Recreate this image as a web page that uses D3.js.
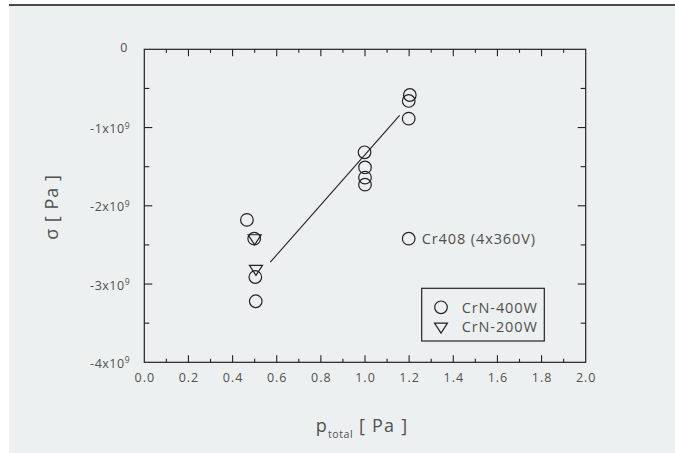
<!DOCTYPE html>
<html>
<head>
<meta charset="utf-8">
<script src="https://cdn.jsdelivr.net/npm/d3@7"></script>
<style>
  html, body { margin: 0; padding: 0; background: #ffffff; }
  svg { display: block; }
  text { font-family: "Open Sans", "Lato", "Noto Sans", sans-serif; fill: #505050; }
</style>
</head>
<body>
<script>
// Film stress versus total sputtering pressure
const xTicks = [0.0, 0.2, 0.4, 0.6, 0.8, 1.0, 1.2, 1.4, 1.6, 1.8, 2.0];
const yTicks = [0, -1e9, -2e9, -3e9, -4e9];
const yTickLabels = ["0", "-1x10", "-2x10", "-3x10", "-4x10"];

// CrN deposited at 400 W
const crn400P = [0.465, 0.498, 0.503, 0.505, 0.998, 1.0, 1.0, 1.0, 1.203, 1.198, 1.198];
const crn400S = [-2.18e9, -2.42e9, -2.91e9, -3.22e9, -1.316e9, -1.51e9, -1.64e9, -1.73e9, -0.584e9, -0.66e9, -0.886e9];

// CrN deposited at 200 W
const crn200P = [0.5, 0.506];
const crn200S = [-2.42e9, -2.81e9];

// Cr408 sample (4x360V)
const cr408P = [1.198];
const cr408S = [-2.42e9];
const cr408Label = "Cr408 (4x360V)";

// Linear trend line end points
const fitP = [0.571, 1.157];
const fitS = [-2.72e9, -0.843e9];

const legendLabels = ["CrN-400W", "CrN-200W"];

const W = 675, H = 453;
const svg = d3.select("body").append("svg").attr("width", W).attr("height", H);

// panel background and top rule
svg.append("rect").attr("x", 9).attr("y", 5).attr("width", W - 9).attr("height", H - 5).attr("fill", "#edf0f1");
svg.append("line").attr("x1", 9).attr("x2", W).attr("y1", 5).attr("y2", 5).attr("stroke", "#111").attr("stroke-width", 1.5);

const pL = 144.3, pR = 585.7, pT = 49.3, pB = 362.3;
const x = d3.scaleLinear().domain([0, 2]).range([pL, pR]);
const y = d3.scaleLinear().domain([-4e9, 0]).range([pB, pT]);

const ink = "#222";

// frame
svg.append("rect").attr("x", pL).attr("y", pT).attr("width", pR - pL).attr("height", pB - pT)
  .attr("fill", "none").attr("stroke", ink).attr("stroke-width", 1.2);

// inward ticks on all four sides
const xMinor = d3.range(0.1, 2.0, 0.2);
const yMinor = [-0.5e9, -1.5e9, -2.5e9, -3.5e9];
const tickG = svg.append("g").attr("stroke", ink).attr("stroke-width", 1.1);
xTicks.slice(1, -1).forEach(v => {
  tickG.append("line").attr("x1", x(v)).attr("x2", x(v)).attr("y1", pB).attr("y2", pB - 7);
  tickG.append("line").attr("x1", x(v)).attr("x2", x(v)).attr("y1", pT).attr("y2", pT + 7);
});
xMinor.forEach(v => {
  tickG.append("line").attr("x1", x(v)).attr("x2", x(v)).attr("y1", pB).attr("y2", pB - 3.5);
  tickG.append("line").attr("x1", x(v)).attr("x2", x(v)).attr("y1", pT).attr("y2", pT + 3.5);
});
yTicks.slice(1, -1).forEach(v => {
  tickG.append("line").attr("x1", pL).attr("x2", pL + 8).attr("y1", y(v)).attr("y2", y(v));
  tickG.append("line").attr("x1", pR).attr("x2", pR - 8).attr("y1", y(v)).attr("y2", y(v));
});
yMinor.forEach(v => {
  tickG.append("line").attr("x1", pL).attr("x2", pL + 5).attr("y1", y(v)).attr("y2", y(v));
  tickG.append("line").attr("x1", pR).attr("x2", pR - 5).attr("y1", y(v)).attr("y2", y(v));
});

// x tick labels
svg.append("g").selectAll("text").data(xTicks).join("text")
  .attr("x", d => x(d) + 0.5).attr("y", pB + 19.5)
  .attr("text-anchor", "middle").attr("font-size", 12.5).attr("letter-spacing", 1)
  .text(d => d.toFixed(1));

// y tick labels with superscript exponent
yTicks.forEach((v, i) => {
  const t = svg.append("text").attr("x", 130).attr("y", y(v) + 5.5)
    .attr("text-anchor", "end").attr("font-size", 12.5).attr("letter-spacing", 0.5);
  if (v === 0) {
    t.attr("x", 128).attr("y", y(v) + 3).text(yTickLabels[i]);
  } else {
    t.append("tspan").text(yTickLabels[i]);
    t.append("tspan").attr("font-size", 8.5).attr("dy", -4.5).text("9");
  }
});

// axis titles
const xt = svg.append("text").attr("x", 362).attr("y", 431.5).attr("text-anchor", "middle")
  .attr("font-size", 18).attr("letter-spacing", 1.2);
xt.append("tspan").text("p");
xt.append("tspan").attr("font-size", 10.5).attr("letter-spacing", 0.6).attr("dy", 6).text("total");
xt.append("tspan").attr("dy", -6).text(" [ Pa ]");

svg.append("text").attr("transform", "translate(58,207) rotate(-90)")
  .attr("text-anchor", "middle").attr("font-size", 18).attr("letter-spacing", 1).text("σ [ Pa ]");

// trend line
svg.append("line")
  .attr("x1", x(fitP[0])).attr("y1", y(fitS[0]))
  .attr("x2", x(fitP[1])).attr("y2", y(fitS[1]))
  .attr("stroke", ink).attr("stroke-width", 1.1);

const r = 6.3;
const triPath = (cx, cy) => {
  const s = 6.5;
  return `M${cx - s},${cy - s * 0.6}L${cx + s},${cy - s * 0.6}L${cx},${cy + s * 0.95}Z`;
};

// circles
const circ = crn400P.map((p, i) => [p, crn400S[i]]).concat(cr408P.map((p, i) => [p, cr408S[i]]));
svg.append("g").selectAll("circle").data(circ).join("circle")
  .attr("cx", d => x(d[0])).attr("cy", d => y(d[1])).attr("r", r)
  .attr("fill", "none").attr("stroke", ink).attr("stroke-width", 1.2);

// triangles
const tri = crn200P.map((p, i) => [p, crn200S[i]]);
svg.append("g").selectAll("path").data(tri).join("path")
  .attr("d", d => triPath(x(d[0]), y(d[1])))
  .attr("fill", "none").attr("stroke", ink).attr("stroke-width", 1.2);

// annotation next to Cr408
svg.append("text").attr("x", x(cr408P[0]) + 13).attr("y", y(cr408S[0]) + 5.8)
  .attr("font-size", 14.5).attr("letter-spacing", 0.9).text(cr408Label);

// legend
const lg = svg.append("g");
lg.append("rect").attr("x", 421.7).attr("y", 288.3).attr("width", 122.6).attr("height", 52.7)
  .attr("fill", "none").attr("stroke", ink).attr("stroke-width", 1.2);
lg.append("circle").attr("cx", 441).attr("cy", 307.3).attr("r", r)
  .attr("fill", "none").attr("stroke", ink).attr("stroke-width", 1.2);
lg.append("path").attr("d", triPath(441, 327)).attr("fill", "none").attr("stroke", ink).attr("stroke-width", 1.2);
lg.append("text").attr("x", 461.7).attr("y", 313).attr("font-size", 14.5).attr("letter-spacing", 0.9).text(legendLabels[0]);
lg.append("text").attr("x", 461.7).attr("y", 332).attr("font-size", 14.5).attr("letter-spacing", 0.9).text(legendLabels[1]);
</script>
</body>
</html>
